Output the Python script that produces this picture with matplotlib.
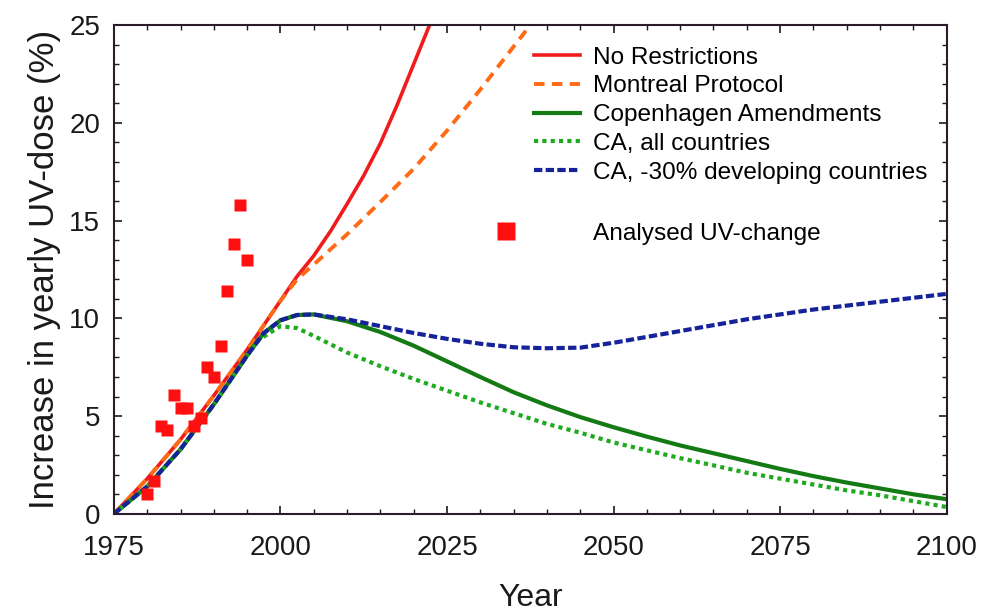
import matplotlib
matplotlib.use("Agg")
import matplotlib.pyplot as plt
from matplotlib.ticker import MultipleLocator
from matplotlib.lines import Line2D

plt.rcParams['font.family'] = ['Liberation Sans', 'DejaVu Sans']

# --- data ---
obs_years = [1980, 1981, 1982, 1983, 1984, 1985, 1986, 1987, 1988, 1989, 1990,
             1991, 1992, 1993, 1994, 1995]
obs_values = [1.0, 1.7, 4.5, 4.3, 6.1, 5.4, 5.4, 4.5, 4.9, 7.5, 7.0,
              8.6, 11.4, 13.8, 15.8, 13.0]

nr_years = [1975, 1980, 1985, 1990, 1995, 2000, 2002.5, 2005, 2007.5, 2010,
            2012.5, 2015, 2017.5, 2020, 2022.5, 2025]
nr_values = [0.0, 1.8, 3.8, 6.05, 8.4, 10.9, 12.15, 13.2, 14.45, 15.85,
             17.3, 18.95, 20.9, 23.0, 25.1, 27.3]

mp_years = [1975, 1980, 1985, 1990, 1995, 2000, 2002.5, 2005, 2010, 2015, 2020,
            2025, 2030, 2035, 2040]
mp_values = [0.0, 1.8, 3.8, 6.05, 8.4, 10.9, 12.0, 12.75, 14.3, 15.95, 17.65,
             19.6, 21.7, 23.9, 26.1]

ca_years = [1975, 1980, 1985, 1990, 1995, 1997.5, 2000, 2002.5, 2005, 2010, 2015,
            2020, 2025, 2030, 2035, 2040, 2045, 2050, 2055, 2060, 2065, 2070,
            2075, 2080, 2085, 2090, 2095, 2100]
ca_values = [0.0, 1.4, 3.3, 5.6, 8.1, 9.25, 9.9, 10.17, 10.2, 9.85, 9.3,
             8.6, 7.8, 7.0, 6.22, 5.55, 4.95, 4.43, 3.95, 3.5, 3.1, 2.7,
             2.3, 1.93, 1.6, 1.3, 1.0, 0.75]

caall_years = [1975, 1980, 1985, 1990, 1995, 1996.5, 2000, 2002.5, 2005, 2010, 2015,
               2020, 2025, 2030, 2035, 2040, 2045, 2050, 2055, 2060, 2065, 2070,
               2075, 2080, 2085, 2090, 2095, 2100]
caall_values = [0.0, 1.4, 3.3, 5.6, 8.1, 8.85, 9.6, 9.5, 9.1, 8.25, 7.55,
                6.9, 6.3, 5.7, 5.15, 4.6, 4.15, 3.65, 3.25, 2.85, 2.48, 2.1,
                1.8, 1.5, 1.2, 0.95, 0.65, 0.35]

dev_years = [1975, 1980, 1985, 1990, 1995, 1997.5, 2000, 2002.5, 2005, 2010, 2015,
             2020, 2025, 2030, 2035, 2040, 2045, 2050, 2055, 2060, 2065, 2070,
             2075, 2080, 2085, 2090, 2095, 2100]
dev_values = [0.0, 1.4, 3.3, 5.6, 8.1, 9.25, 9.9, 10.17, 10.2, 9.95, 9.6,
              9.25, 8.95, 8.7, 8.52, 8.47, 8.5, 8.75, 9.05, 9.35, 9.65, 9.95,
              10.2, 10.45, 10.65, 10.85, 11.05, 11.25]

labels = ["No Restrictions", "Montreal Protocol", "Copenhagen Amendments",
          "CA, all countries", "CA, -30% developing countries"]
obs_label = "Analysed UV-change"
x_ticks = [1975, 2000, 2025, 2050, 2075, 2100]
y_ticks = [0, 5, 10, 15, 20, 25]

red = '#f01c1c'
orange = '#ff6a14'
dgreen = '#147a14'
lgreen = '#1faa1f'
blue = '#16229a'
txt = '#1a1a1a'

fig = plt.figure(figsize=(9.82, 6.11), dpi=100)
ax = fig.add_axes([0.116, 0.159, 0.848, 0.800])

l1, = ax.plot(nr_years, nr_values, color=red, lw=2.6)
l2, = ax.plot(mp_years, mp_values, color=orange, lw=2.8, ls=(0, (2.7, 1.9)))
l3, = ax.plot(ca_years, ca_values, color=dgreen, lw=3.0)
l4, = ax.plot(caall_years, caall_values, color=lgreen, lw=3.0, ls=(0, (1.0, 1.0)))
l5, = ax.plot(dev_years, dev_values, color=blue, lw=3.0, ls=(0, (2.0, 0.8)))
sc, = ax.plot(obs_years, obs_values, ls='none', marker='s', ms=8,
              color='#ff1010', mec='none')

ax.set_xlim(1975, 2100)
ax.set_ylim(0, 25)
ax.set_xticks(x_ticks)
ax.set_yticks(y_ticks)
ax.xaxis.set_minor_locator(MultipleLocator(5))
ax.yaxis.set_minor_locator(MultipleLocator(1))
ax.tick_params(which='both', direction='in', top=True, right=True,
               labelsize=20, colors=txt)
ax.tick_params(which='major', length=6, width=1.2)
ax.tick_params(which='minor', length=3.5, width=1.0)
ax.tick_params(axis='x', which='major', pad=15)
ax.tick_params(axis='y', which='major', pad=10)
for s in ax.spines.values():
    s.set_linewidth(1.5)
    s.set_color('#2a1c2a')

ax.set_xlabel("Year", fontsize=23, color=txt, labelpad=16)
ax.set_ylabel("Increase in yearly UV-dose (%)", fontsize=25, color=txt, labelpad=6)

leg1 = ax.legend([l1, l2, l3, l4, l5], labels, loc='upper left',
                 bbox_to_anchor=(0.4924, 0.976), frameon=False, fontsize=17.6,
                 handlelength=1.88, handletextpad=0.53, labelspacing=0.27,
                 borderaxespad=0)
ax.add_artist(leg1)
leg2 = ax.legend([Line2D([], [], ls='none', marker='s', ms=13, color='#ff1010', mec='none')],
                 [obs_label], loc='upper left', bbox_to_anchor=(0.4442, 0.616),
                 frameon=False, fontsize=17.6, handlelength=1.0, handletextpad=3.07,
                 borderaxespad=0)

fig.savefig("out.png", dpi=100)
